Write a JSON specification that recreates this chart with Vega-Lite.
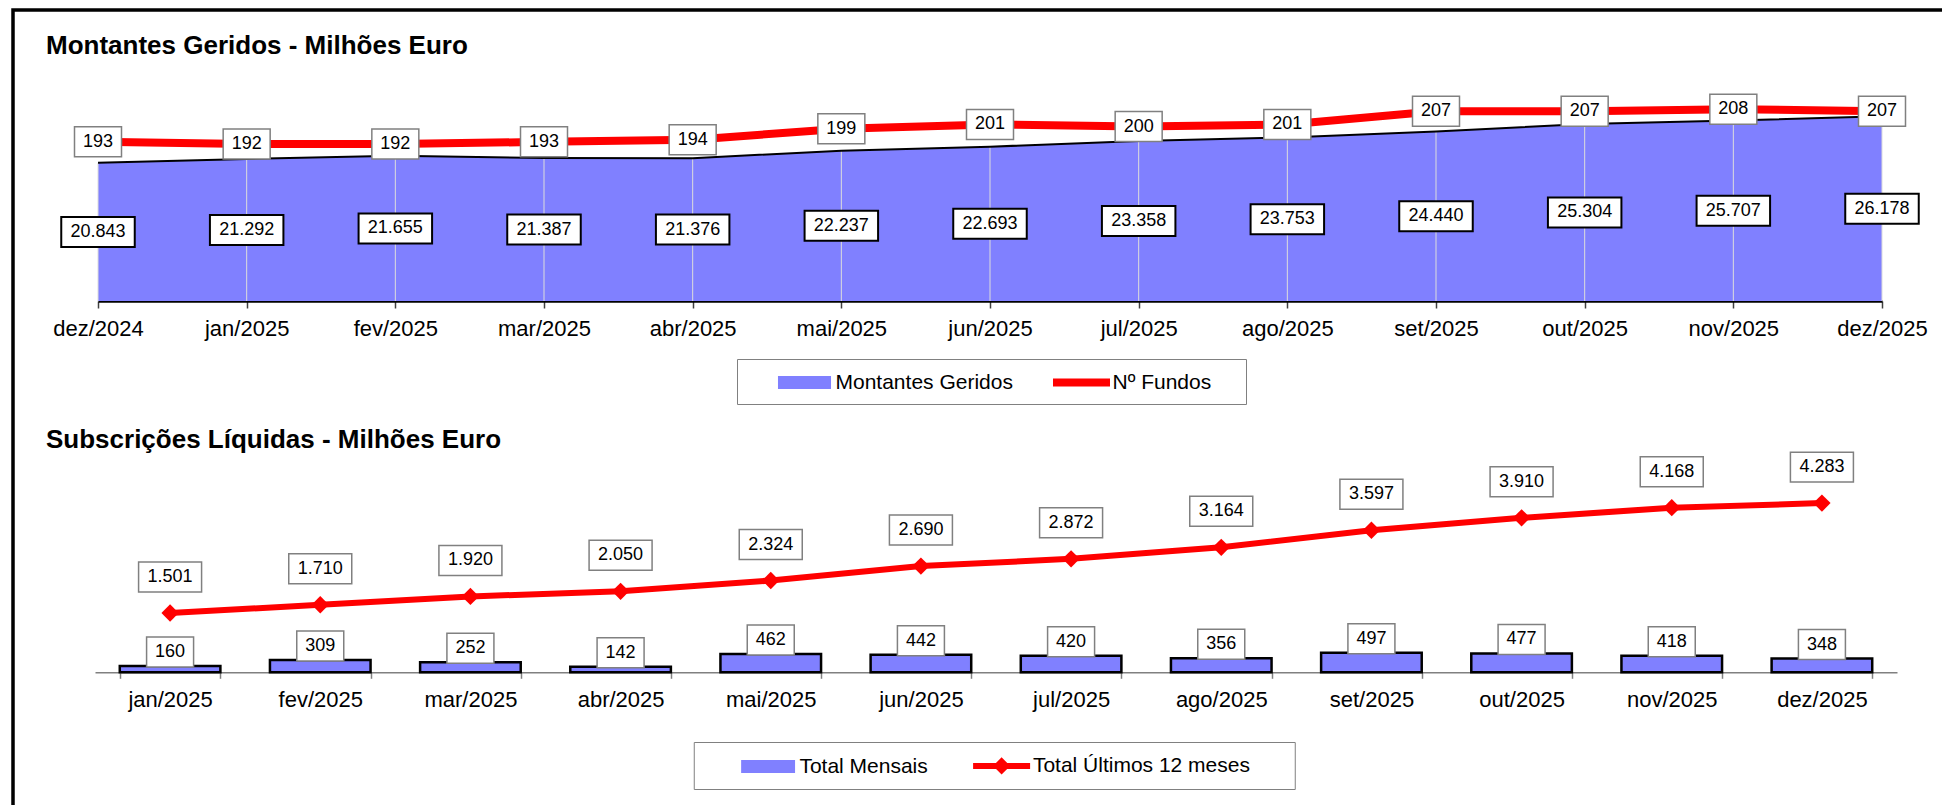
{
  "$schema": "https://vega.github.io/schema/vega-lite/v6.json",
  "width": 1929,
  "height": 795,
  "autosize": "none",
  "padding": {"left": 13, "top": 10, "right": 0, "bottom": 0},
  "background": "white",
  "config": {
    "font": "Liberation Sans",
    "locale": {"number": {"decimal": ",", "thousands": ".", "grouping": [3], "currency": ["", " €"]}},
    "view": {"stroke": "black", "strokeWidth": 3.5, "strokeDash": [1929, 2724, 800]}
  },
  "title": {
    "text": "Montantes Geridos - Milhões Euro",
    "subtitle": "Subscrições Líquidas - Milhões Euro",
    "anchor": "start",
    "frame": "group",
    "orient": "top",
    "offset": -442.8,
    "dx": 33,
    "font": "Liberation Sans",
    "fontSize": 26,
    "fontWeight": "bold",
    "color": "black",
    "subtitleFont": "Liberation Sans",
    "subtitleFontSize": 26,
    "subtitleFontWeight": "bold",
    "subtitleColor": "black",
    "subtitlePadding": 368.3
  },
  "datasets": {
    "montantes": [
      {"mes": "dez/2024", "montantes": 20843, "fundos": 193},
      {"mes": "jan/2025", "montantes": 21292, "fundos": 192},
      {"mes": "fev/2025", "montantes": 21655, "fundos": 192},
      {"mes": "mar/2025", "montantes": 21387, "fundos": 193},
      {"mes": "abr/2025", "montantes": 21376, "fundos": 194},
      {"mes": "mai/2025", "montantes": 22237, "fundos": 199},
      {"mes": "jun/2025", "montantes": 22693, "fundos": 201},
      {"mes": "jul/2025", "montantes": 23358, "fundos": 200},
      {"mes": "ago/2025", "montantes": 23753, "fundos": 201},
      {"mes": "set/2025", "montantes": 24440, "fundos": 207},
      {"mes": "out/2025", "montantes": 25304, "fundos": 207},
      {"mes": "nov/2025", "montantes": 25707, "fundos": 208},
      {"mes": "dez/2025", "montantes": 26178, "fundos": 207}
    ],
    "subscricoes": [
      {"mes": "jan/2025", "mensal": 160, "total12": 1501},
      {"mes": "fev/2025", "mensal": 309, "total12": 1710},
      {"mes": "mar/2025", "mensal": 252, "total12": 1920},
      {"mes": "abr/2025", "mensal": 142, "total12": 2050},
      {"mes": "mai/2025", "mensal": 462, "total12": 2324},
      {"mes": "jun/2025", "mensal": 442, "total12": 2690},
      {"mes": "jul/2025", "mensal": 420, "total12": 2872},
      {"mes": "ago/2025", "mensal": 356, "total12": 3164},
      {"mes": "set/2025", "mensal": 497, "total12": 3597},
      {"mes": "out/2025", "mensal": 477, "total12": 3910},
      {"mes": "nov/2025", "mensal": 418, "total12": 4168},
      {"mes": "dez/2025", "mensal": 348, "total12": 4283}
    ]
  },
  "resolve": {
    "scale": {"x": "independent", "y": "independent", "color": "independent"},
    "axis": {"x": "independent", "y": "independent"},
    "legend": {"color": "independent"}
  },
  "layer": [
    {
      "data": {"name": "montantes"},
      "resolve": {"scale": {"y": "independent"}, "axis": {"y": "independent"}},
      "layer": [
        {
          "layer": [
            {
              "mark": {"type": "area", "opacity": 1, "interpolate": "linear"},
              "encoding": {
                "x": {
                  "field": "mes", "type": "ordinal", "sort": null, "title": null,
                  "scale": {"type": "point", "padding": 0, "range": [85, 1869]},
                  "axis": {
                    "orient": "bottom", "offset": -504, "grid": false, "labelAngle": 0,
                    "labelOverlap": false, "labelFont": "Liberation Sans", "labelFontSize": 22,
                    "labelColor": "black", "labelPadding": 10, "tickSize": 7, "tickColor": "#404040",
                    "tickWidth": 1.5, "domainColor": "black", "domainWidth": 2.5
                  }
                },
                "y": {
                  "field": "montantes", "type": "quantitative", "axis": null,
                  "scale": {"domain": [5000, 30000], "range": [291, 73], "nice": false, "zero": false}
                },
                "y2": {"datum": 5000},
                "color": {
                  "datum": "Montantes Geridos", "type": "nominal",
                  "scale": {"domain": ["Montantes Geridos", "Nº Fundos"], "range": ["#8080FF", "#FF0000"]},
                  "legend": {
                    "orient": "none", "legendX": 724, "legendY": 349, "direction": "horizontal",
                    "title": " ", "titleOrient": "right", "titleFontSize": 1, "titlePadding": 23,
                    "labelFont": "Liberation Sans", "labelFontSize": 21, "labelColor": "black",
                    "labelLimit": 600,
                    "strokeColor": "#808080", "fillColor": "white", "padding": 11.5,
                    "symbolSize": 484, "symbolOffset": 44, "labelOffset": 19, "columnPadding": 12,
                    "symbolStrokeWidth": 2,
                    "encode": {
                      "symbols": {
                        "update": {
                          "shape": {"signal": "datum.value === 'Nº Fundos' ? 'M-2.5,-0.27H2.5V0.27H-2.5Z' : 'M-2.32,-0.5H2.32V0.5H-2.32Z'"},
                          "stroke": {"signal": "datum.value === 'Nº Fundos' ? '#FF0000' : '#000000'"},
                          "fill": {"signal": "datum.value === 'Nº Fundos' ? '#FF0000' : '#8080FF'"},
                          "opacity": {"value": 1}
                        }
                      }
                    }
                  }
                }
              }
            },
            {
              "mark": {"type": "rule", "color": "#dcdcdc", "strokeWidth": 1},
              "encoding": {
                "x": {"field": "mes", "type": "ordinal", "sort": null, "title": null},
                "y": {"field": "montantes", "type": "quantitative"},
                "y2": {"datum": 5000}
              }
            },
            {
              "mark": {"type": "line", "color": "black", "strokeWidth": 2},
              "encoding": {
                "x": {"field": "mes", "type": "ordinal", "sort": null, "title": null},
                "y": {"field": "montantes", "type": "quantitative"}
              }
            }
          ]
        },
        {
          "layer": [
            {
              "mark": {"type": "line", "strokeWidth": 8},
              "encoding": {
                "x": {"field": "mes", "type": "ordinal", "sort": null, "title": null},
                "y": {
                  "field": "fundos", "type": "quantitative", "axis": null,
                  "scale": {"domain": [120, 220], "range": [291, 73], "nice": false, "zero": false}
                },
                "color": {
                  "datum": "Nº Fundos", "type": "nominal",
                  "scale": {"domain": ["Montantes Geridos", "Nº Fundos"], "range": ["#8080FF", "#FF0000"]},
                  "legend": {
                    "orient": "none", "legendX": 724, "legendY": 349, "direction": "horizontal",
                    "title": " ", "titleOrient": "right", "titleFontSize": 1, "titlePadding": 23,
                    "labelFont": "Liberation Sans", "labelFontSize": 21, "labelColor": "black",
                    "labelLimit": 600,
                    "strokeColor": "#808080", "fillColor": "white", "padding": 11.5,
                    "symbolSize": 484, "symbolOffset": 44, "labelOffset": 19, "columnPadding": 12,
                    "symbolStrokeWidth": 2,
                    "encode": {
                      "symbols": {
                        "update": {
                          "shape": {"signal": "datum.value === 'Nº Fundos' ? 'M-2.5,-0.27H2.5V0.27H-2.5Z' : 'M-2.32,-0.5H2.32V0.5H-2.32Z'"},
                          "stroke": {"signal": "datum.value === 'Nº Fundos' ? '#FF0000' : '#000000'"},
                          "fill": {"signal": "datum.value === 'Nº Fundos' ? '#FF0000' : '#8080FF'"},
                          "opacity": {"value": 1}
                        }
                      }
                    }
                  }
                }
              }
            },
            {
              "mark": {"type": "point", "shape": "M-1,-0.638H1V0.638H-1Z", "size": 2209, "filled": true, "fill": "white", "stroke": "#808080", "strokeWidth": 1.5, "opacity": 1},
              "encoding": {
                "x": {"field": "mes", "type": "ordinal", "sort": null, "title": null},
                "y": {"field": "fundos", "type": "quantitative"}
              }
            },
            {
              "mark": {"type": "text", "fontSize": 18, "baseline": "middle", "align": "center", "color": "black", "font": "Liberation Sans"},
              "encoding": {
                "x": {"field": "mes", "type": "ordinal", "sort": null, "title": null},
                "y": {"field": "fundos", "type": "quantitative"},
                "text": {"field": "fundos", "type": "quantitative", "format": "d"}
              }
            }
          ]
        },
        {
          "layer": [
            {
              "mark": {"type": "point", "shape": "M-1,-0.408H1V0.408H-1Z", "size": 5402, "filled": true, "fill": "white", "stroke": "black", "strokeWidth": 2, "opacity": 1},
              "encoding": {
                "x": {"field": "mes", "type": "ordinal", "sort": null, "title": null},
                "y": {
                  "field": "montantes", "type": "quantitative", "axis": null,
                  "scale": {"domain": [5000, 55000], "range": [291, 73], "nice": false, "zero": false}
                }
              }
            },
            {
              "mark": {"type": "text", "fontSize": 18, "baseline": "middle", "align": "center", "color": "black", "font": "Liberation Sans"},
              "encoding": {
                "x": {"field": "mes", "type": "ordinal", "sort": null, "title": null},
                "y": {"field": "montantes", "type": "quantitative"},
                "text": {"field": "montantes", "type": "quantitative", "format": ",d"}
              }
            }
          ]
        }
      ]
    },
    {
      "data": {"name": "subscricoes"},
      "layer": [
        {
          "mark": {"type": "bar", "stroke": "black", "strokeWidth": 2.5, "opacity": 1},
          "encoding": {
            "x": {
              "field": "mes", "type": "ordinal", "sort": null, "title": null,
              "scale": {"type": "band", "paddingInner": 0.33, "paddingOuter": 0.165, "range": [82, 1884]},
              "axis": {
                "orient": "bottom", "offset": -132.7, "grid": false, "labelAngle": 0, "tickBand": "extent",
                "labelOverlap": false, "labelFont": "Liberation Sans", "labelFontSize": 22,
                "labelColor": "black", "labelPadding": 11, "tickSize": 6, "tickColor": "#808080",
                "tickWidth": 1.5, "domainColor": "#808080", "domainWidth": 1.5
              }
            },
            "y": {
              "field": "mensal", "type": "quantitative", "axis": null,
              "scale": {"domain": [0, 5000], "range": [662.3, 464.8], "nice": false, "zero": true}
            },
            "y2": {"datum": 0},
            "color": {
              "datum": "Total Mensais", "type": "nominal",
              "scale": {"domain": ["Total Mensais", "Total Últimos 12 meses"], "range": ["#8080FF", "#FF0000"]},
              "legend": {
                "orient": "none", "legendX": 680.75, "legendY": 732, "direction": "horizontal",
                "title": " ", "titleOrient": "right", "titleFontSize": 1, "titlePadding": 32.5,
                "labelFont": "Liberation Sans", "labelFontSize": 21, "labelColor": "black",
                "labelLimit": 600,
                "strokeColor": "#808080", "fillColor": "white", "padding": 11.5,
                "symbolSize": 484, "symbolOffset": 50.85, "labelOffset": 19.3, "columnPadding": 10.5,
                "symbolStrokeWidth": 2,
                "encode": {
                  "symbols": {
                    "update": {
                      "shape": {"signal": "datum.value === 'Total Mensais' ? 'M-2.36,-0.5H2.36V0.5H-2.36Z' : 'M-2.5,-0.18H2.5V0.18H-2.5Z M0,-0.65L0.65,0L0,0.65L-0.65,0Z'"},
                      "stroke": {"signal": "datum.value === 'Total Mensais' ? '#000000' : '#FF0000'"},
                      "fill": {"signal": "datum.value === 'Total Mensais' ? '#8080FF' : '#FF0000'"},
                      "opacity": {"value": 1}
                    }
                  }
                }
              }
            }
          }
        },
        {
          "mark": {"type": "line", "strokeWidth": 6, "point": {"shape": "diamond", "size": 300, "filled": true, "opacity": 1}},
          "encoding": {
            "x": {"field": "mes", "type": "ordinal", "sort": null, "title": null},
            "y": {"field": "total12", "type": "quantitative"},
            "color": {
              "datum": "Total Últimos 12 meses", "type": "nominal",
              "scale": {"domain": ["Total Mensais", "Total Últimos 12 meses"], "range": ["#8080FF", "#FF0000"]},
              "legend": {
                "orient": "none", "legendX": 680.75, "legendY": 732, "direction": "horizontal",
                "title": " ", "titleOrient": "right", "titleFontSize": 1, "titlePadding": 32.5,
                "labelFont": "Liberation Sans", "labelFontSize": 21, "labelColor": "black",
                "labelLimit": 600,
                "strokeColor": "#808080", "fillColor": "white", "padding": 11.5,
                "symbolSize": 484, "symbolOffset": 50.85, "labelOffset": 19.3, "columnPadding": 10.5,
                "symbolStrokeWidth": 2,
                "encode": {
                  "symbols": {
                    "update": {
                      "shape": {"signal": "datum.value === 'Total Mensais' ? 'M-2.36,-0.5H2.36V0.5H-2.36Z' : 'M-2.5,-0.18H2.5V0.18H-2.5Z M0,-0.65L0.65,0L0,0.65L-0.65,0Z'"},
                      "stroke": {"signal": "datum.value === 'Total Mensais' ? '#000000' : '#FF0000'"},
                      "fill": {"signal": "datum.value === 'Total Mensais' ? '#8080FF' : '#FF0000'"},
                      "opacity": {"value": 1}
                    }
                  }
                }
              }
            }
          }
        },
        {
          "mark": {"type": "point", "shape": "M-1,-0.638H1V0.638H-1Z", "size": 2209, "filled": true, "fill": "white", "stroke": "#808080", "strokeWidth": 1.5, "opacity": 1, "yOffset": -14},
          "encoding": {
            "x": {"field": "mes", "type": "ordinal", "sort": null, "title": null},
            "y": {"field": "mensal", "type": "quantitative"}
          }
        },
        {
          "mark": {"type": "text", "fontSize": 18, "baseline": "middle", "align": "center", "color": "black", "font": "Liberation Sans", "dy": -14},
          "encoding": {
            "x": {"field": "mes", "type": "ordinal", "sort": null, "title": null},
            "y": {"field": "mensal", "type": "quantitative"},
            "text": {"field": "mensal", "type": "quantitative", "format": "d"}
          }
        },
        {
          "mark": {"type": "point", "shape": "M-1,-0.476H1V0.476H-1Z", "size": 3969, "filled": true, "fill": "white", "stroke": "#808080", "strokeWidth": 1.5, "opacity": 1, "yOffset": -36},
          "encoding": {
            "x": {"field": "mes", "type": "ordinal", "sort": null, "title": null},
            "y": {"field": "total12", "type": "quantitative"}
          }
        },
        {
          "mark": {"type": "text", "fontSize": 18, "baseline": "middle", "align": "center", "color": "black", "font": "Liberation Sans", "dy": -36},
          "encoding": {
            "x": {"field": "mes", "type": "ordinal", "sort": null, "title": null},
            "y": {"field": "total12", "type": "quantitative"},
            "text": {"field": "total12", "type": "quantitative", "format": ",d"}
          }
        }
      ]
    }
  ]
}
